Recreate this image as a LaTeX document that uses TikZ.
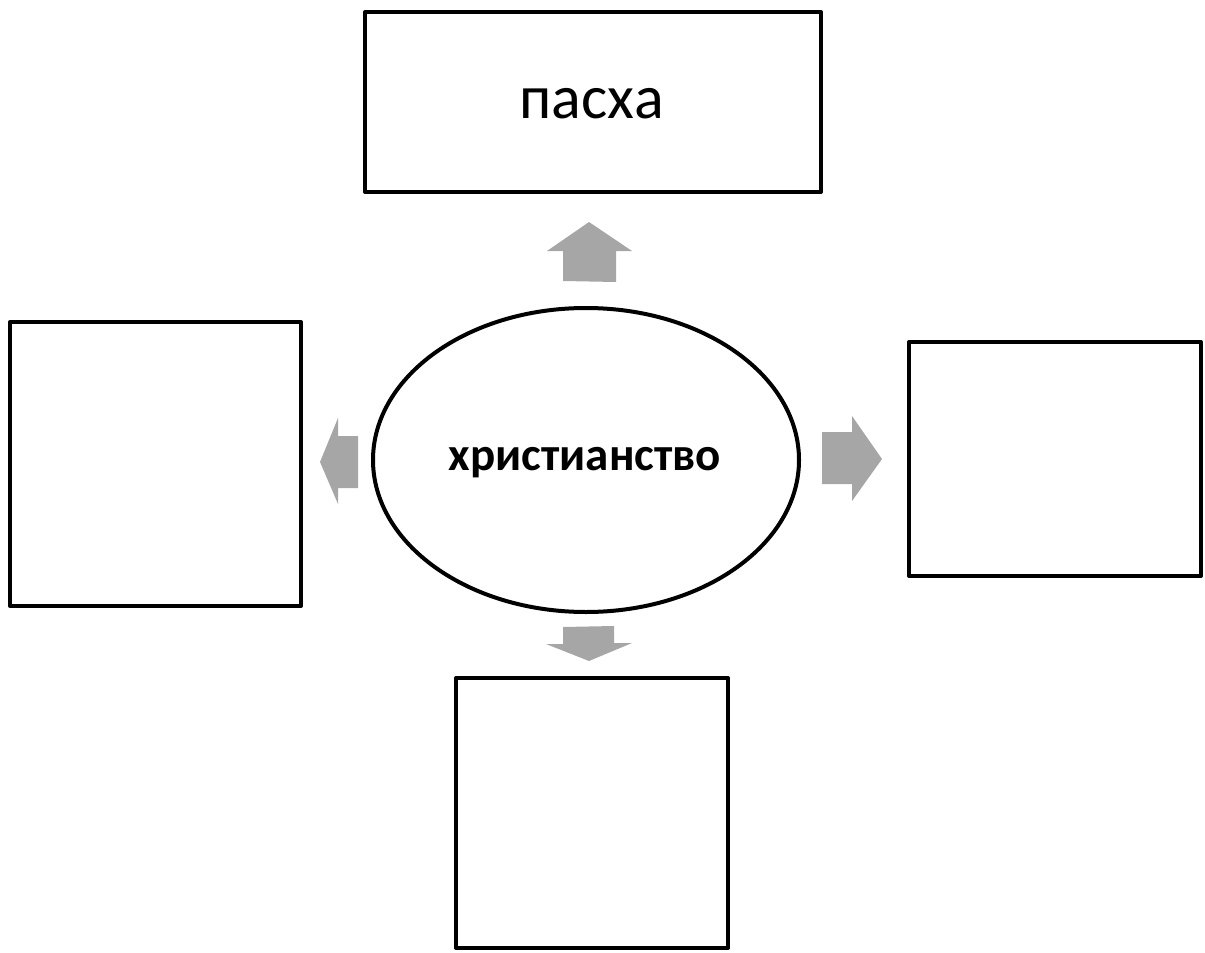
\documentclass[tikz,border=0pt]{standalone}
\usepackage{fontspec}
\setmainfont{Carlito}
\definecolor{arrowgray}{HTML}{A6A6A6}
\tikzset{
  box/.style={draw=black, line width=4pt, line join=round, fill=none},
  oval/.style={draw=black, line width=4pt},
  blockarrow/.style={fill=arrowgray, draw=none},
}
\begin{document}
\begin{tikzpicture}[x=1pt,y=-1pt]
\useasboundingbox (0,0) rectangle (1205,953);
% boxes
\draw[box] (365,12) rectangle (821,192);
\node (top) at (592,104) {\fontsize{62}{66}\selectfont пасха};
\draw[box] (10,322) rectangle (301,606);
\draw[box] (909,342) rectangle (1201,576);
\draw[box] (456,678) rectangle (728,948);
% ellipse
\draw[oval] (586,460) ellipse [x radius=213, y radius=152];
\node (center) at (585,463) {\fontsize{47}{50}\selectfont\bfseries христианство};
% arrows
\fill[blockarrow] (563,281) -- (563,251) -- (547,251) -- (589,222) -- (632,251) -- (616,251) -- (616,282) -- cycle;
\fill[blockarrow] (358,436) -- (338,436) -- (338,418) -- (320,462) -- (338,504) -- (338,488) -- (358,488) -- cycle;
\fill[blockarrow] (822,432) -- (852,432) -- (852,416) -- (882,459) -- (852,501) -- (852,484) -- (822,484) -- cycle;
\fill[blockarrow] (563,627) -- (614,626) -- (614,643) -- (632,643) -- (589,661) -- (546,644) -- (563,644) -- cycle;
\end{tikzpicture}
\end{document}
